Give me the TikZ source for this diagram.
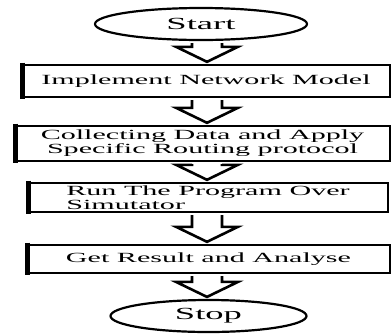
\documentclass[tikz,border=0pt]{standalone}
\usepackage{fontspec}
\setmainfont[FakeStretch=2.15]{Liberation Serif}
\usetikzlibrary{calc,shapes.geometric}

\tikzset{
  terminal/.style={draw, ellipse, line width=2.2pt, inner sep=0pt, font=\fontsize{17}{18}\selectfont},
  stepbox/.style={draw, rectangle, line width=2.4pt, inner sep=0pt},
  fatline/.style={line width=2.6pt, line join=miter},
}
% hollow block arrow from one node down to the next, along the axis
\def\fatarrow(#1)(#2){\draw[fatline] ($(axis |- #1.south)+(-15,2)$) -- ($(axis |- #2.north)+(-15,-17)$) -- ($(axis |- #2.north)+(-31,-17)$) -- ($(axis |- #2.north)+(0,-2)$) -- ($(axis |- #2.north)+(31,-17)$) -- ($(axis |- #2.north)+(15,-17)$) -- ($(axis |- #1.south)+(15,2)$);}

\begin{document}
\begin{tikzpicture}[x=1pt, y=-1pt, font=\fontsize{14}{14}\selectfont]
	\useasboundingbox (0,0) rectangle (391,333);
	\coordinate (axis) at (207,0);

	\node[terminal, minimum width=212, minimum height=32] (start) at (201,24) {Start};
	\node[stepbox, minimum width=368, minimum height=32] (impl) at (206,81) {Implement Network Model};
	\node[stepbox, minimum width=375, minimum height=35, align=center] (collect) at (202.5,143.5) {Collecting Data and Apply\\Specific Routing protocol};
	\node[stepbox, minimum width=360, minimum height=29, align=left] (run) at (208,197.5) {Run The Program Over\\Simutator};
	\node[stepbox, minimum width=363, minimum height=28] (result) at (208.5,259) {Get Result and Analyse};
	\node[terminal, minimum width=196, minimum height=32] (stop) at (208.5,316) {Stop};

	% heavier left sides of the boxes
	\foreach \n in {impl,collect,run,result}
		\draw[line width=5pt] ($(\n.north west)+(1.3,-1.2)$) -- ($(\n.south west)+(1.3,1.2)$);

	\fatarrow(start)(impl)
	\fatarrow(impl)(collect)
	\fatarrow(collect)(run)
	\fatarrow(run)(result)
	\fatarrow(result)(stop)
\end{tikzpicture}
\end{document}
